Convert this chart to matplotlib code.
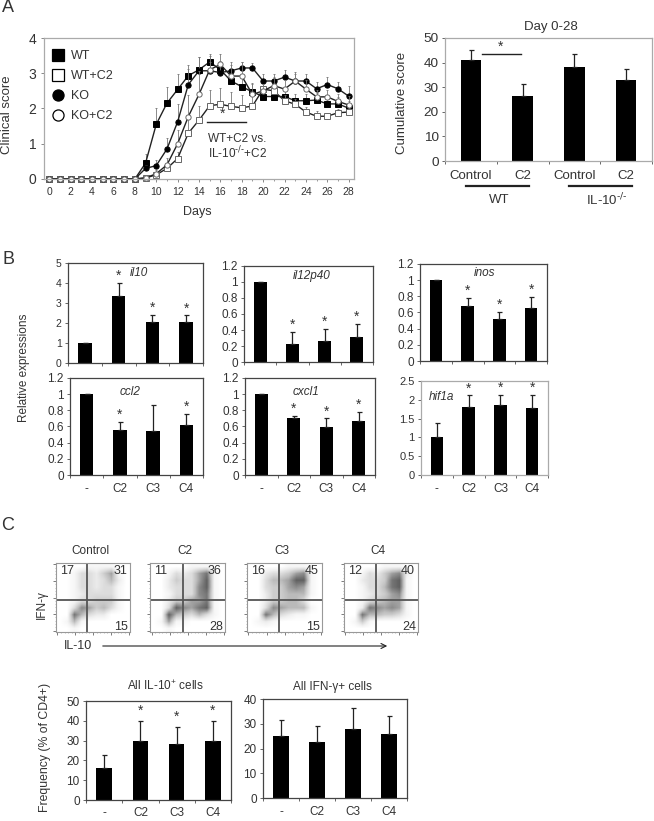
'''Three panel figure: clinical score, relative expressions and flow cytometry.'''

import matplotlib
matplotlib.use("Agg")
import matplotlib.pyplot as plt
from matplotlib.lines import Line2D
from matplotlib.patches import FancyArrowPatch
import numpy as np

plt.rcParams['font.family'] = ['Liberation Sans', 'DejaVu Sans']
plt.rcParams['mathtext.default'] = 'regular'

W, H = 654, 821
TXT = '#333333'

# ===============================================================
#  Data
# ===============================================================
days = list(range(29))
zeros9 = [0] * 9
wt = zeros9 + [.45, 1.55, 2.15, 2.54, 2.93, 3.1, 3.32, 3.1, 2.78, 2.62, 2.47, 2.34, 2.34, 2.34, 2.22, 2.22, 2.24, 2.13, 2.13, 2.01]
wt_c2 = zeros9 + [.03, .12, .3, .58, 1.3, 1.67, 2.08, 2.12, 2.06, 2.02, 2.07, 2.55, 2.5, 2.22, 2.12, 1.9, 1.78, 1.78, 1.88, 1.9]
ko = zeros9 + [.3, .38, .85, 1.62, 2.68, 3.07, 3.07, 3.02, 3.07, 3.15, 3.15, 2.78, 2.78, 2.89, 2.78, 2.78, 2.56, 2.68, 2.56, 2.35]
ko_c2 = zeros9 + [.03, .15, .4, 1.0, 1.77, 2.4, 3.1, 3.25, 2.92, 2.92, 2.4, 2.5, 2.65, 2.55, 2.78, 2.55, 2.33, 2.33, 2.2, 2.1]
wt_err = zeros9 + [.27, .45, .45, .43, .3, .35, .22, .25, .25, .25, .25, .2, .2, .2, .2, .2, .2, .2, .2, .2]
wt_c2_err = zeros9 + [.03, .08, .1, .2, .5, .4, .45, .45, .4, .35, .35, .2, .2, .15, .15, .15, .15, .1, .1, .1]
ko_err = zeros9 + [.1, .15, .3, .5, .45, .4, .25, .25, .25, .18, .15, .2, .2, .2, .2, .2, .2, .2, .2, .28]
ko_c2_err = zeros9 + [.03, .1, .2, .4, .6, .65, .4, .3, .3, .4, .3, .2, .25, .25, .25, .25, .2, .2, .2, .25]

cum_labels = ['Control', 'C2', 'Control', 'C2']
cum_vals = [41, 26.5, 38.3, 33]
cum_tops = [45.3, 31.2, 43.3, 37.5]

b_labels = ['-', 'C2', 'C3', 'C4']
il10_vals = [1, 3.35, 2.07, 2.03]
il10_tops = [1, 4.0, 2.4, 2.38]
il12_vals = [1, .23, .26, .31]
il12_tops = [1, .38, .41, .48]
inos_vals = [1, .68, .52, .66]
inos_tops = [1, .78, .61, .79]
ccl2_vals = [1, .56, .55, .62]
ccl2_tops = [1, .66, .87, .76]
cxcl1_vals = [1, .7, .59, .67]
cxcl1_tops = [1, .73, .7, .78]
hif_vals = [1, 1.8, 1.86, 1.79]
hif_tops = [1.39, 2.12, 2.14, 2.14]
freq10_vals = [16.2, 29.7, 28.3, 30]
freq10_tops = [22.5, 40, 37, 40]
ifn_vals = [25.2, 22.5, 28, 25.8]
ifn_tops = [31.5, 29, 36.5, 33]

# rough darkness of the dot clouds, one digit per cell, top row first
flow_control = ["0000111100", "0013324610", "0013323520", "0013323310", "0012333310",
                "0013344410", "0037645310", "0085322000", "0151000000", "0010000000"]
flow_c2 = ["0000011100", "0013236810", "0024336910", "0023337910", "0013337810",
           "0024466810", "0039768910", "0095435310", "0161100000", "0010000000"]
flow_c3 = ["0000011100", "0023346710", "0035569910", "0034467610", "0024455510",
           "0024455300", "0037655510", "0085321100", "0121000000", "0000000000"]
flow_c4 = ["0000011100", "0013246720", "0023348910", "0013358910", "0012346710",
           "0013456610", "0028767610", "0085544310", "0141000000", "0000000000"]
flow_titles = ['Control', 'C2', 'C3', 'C4']
flow_counts = [(17, 31, 15), (11, 36, 28), (16, 45, 15), (12, 40, 24)]


# ===============================================================
#  Helpers
# ===============================================================
fig = plt.figure(figsize=(W / 100, H / 100), dpi=100)


def ax_px(left, top, right, bottom):
    return fig.add_axes([left / W, 1 - bottom / H, (right - left) / W, (bottom - top) / H])


def txt(x, y, s, size=9, **kw):
    kw.setdefault('ha', 'center')
    kw.setdefault('va', 'center')
    kw.setdefault('color', TXT)
    fig.text(x / W, 1 - y / H, s, fontsize=size, **kw)


def hline_px(x0, x1, y, lw=1.0, color='#222222'):
    fig.add_artist(Line2D([x0 / W, x1 / W], [1 - y / H, 1 - y / H], lw=lw, color=color))


def bars(pos, vals, tops, ymax, yticks, ylabels, labels=None, stars=(), edge='#444444',
         width=0.4, size=8.5, lsize=8.5, pad=6, star_off=0):
    ax = ax_px(*pos)
    x = np.arange(len(vals))
    err = np.array(tops) - np.array(vals)
    ax.bar(x, vals, width=width, color='black')
    ax.errorbar(x, vals, yerr=[np.zeros(len(vals)), err], fmt='none', ecolor='#222222',
                elinewidth=0.9, capsize=1.8, capthick=0.9)
    ax.set_xlim(-0.5, len(vals) - 0.5)
    ax.set_ylim(0, ymax)
    ax.set_yticks(yticks)
    ax.set_yticklabels(ylabels, fontsize=size, color=TXT)
    ax.set_xticks(np.arange(len(vals) + 1) - 0.5)
    ax.set_xticklabels([])
    ax.set_xticks(x, minor=True)
    ax.set_xticklabels(labels if labels else [''] * len(vals), minor=True, fontsize=lsize, color=TXT)
    ax.tick_params(axis='x', which='minor', length=0, pad=pad)
    ax.tick_params(axis='both', which='major', length=2.5, width=0.7, color='#666666', pad=2)
    for s in ax.spines.values():
        s.set_color(edge)
        s.set_linewidth(0.9)
    for i in stars:
        ax.annotate('*', (i, tops[i]), xytext=(0, star_off), textcoords='offset points',
                    ha='center', va='bottom', fontsize=10, color=TXT)
    return ax


# ===============================================================
#  Panel A
# ===============================================================
ax = ax_px(44, 38, 354, 179)
series = [(wt, wt_err, 's', 'black', 'WT'), (wt_c2, wt_c2_err, 's', 'white', 'WT+C2'),
          (ko, ko_err, 'o', 'black', 'KO'), (ko_c2, ko_c2_err, 'o', 'white', 'KO+C2')]
handles = []
for ys, es, marker, face, name in series:
    grey = face == 'white'
    edge = '#666666' if grey else 'black'
    ax.errorbar(days, ys, yerr=[np.zeros(29), es], fmt='none', ecolor='#777777',
                elinewidth=0.6, capsize=1.0, capthick=0.6)
    ax.plot(days, ys, '-', color='#222222', lw=1.0, marker=marker, ms=3.8, mfc=face,
            mec=edge, mew=0.7, clip_on=False)
    handles.append(Line2D([], [], ls='', marker=marker, ms=8, mfc=face, mec='black', mew=0.9, label=name))
ax.set_xlim(-0.5, 28.5)
ax.set_ylim(0, 4)
ax.set_yticks([0, 1, 2, 3, 4])
ax.set_xticks(np.arange(0, 29, 2))
ax.set_xticks(np.arange(0, 29, 1), minor=True)
ax.tick_params(axis='y', labelsize=10, labelcolor=TXT, length=2.5, width=0.7, color='#888888', pad=3)
ax.tick_params(axis='x', labelsize=7.5, labelcolor=TXT, length=2.5, width=0.7, color='#888888', pad=3)
ax.tick_params(axis='x', which='minor', length=1.5, width=0.6, color='#888888')
for s in ax.spines.values():
    s.set_color('#aaaaaa')
    s.set_linewidth(0.9)
ax.legend(handles=handles, loc='upper left', bbox_to_anchor=(-0.023, 0.975), frameon=False, fontsize=9,
          labelspacing=0.63, handletextpad=0.0, borderaxespad=0.3, labelcolor=TXT)

txt(8, 8, 'A', 13)
txt(197, 212, 'Days', 9)
txt(7, 115, 'Clinical score', 9.5, rotation=90)
txt(223, 114, '*', 10)
hline_px(207, 246, 122)
txt(208, 139, 'WT+C2 vs.', 8.5, ha='left')
txt(208, 153, r'IL-10$^{\text{-/-}}$+C2', 8.5, ha='left')

bars((445, 38, 652, 161), cum_vals, cum_tops, 50, [0, 10, 20, 30, 40, 50],
     ['0', '10', '20', '30', '40', '50'], labels=cum_labels, edge='#aaaaaa', size=9.7, lsize=9.5, pad=6.5)
txt(551, 27, 'Day 0-28', 9.5)
txt(402, 103, 'Cumulative score', 9.5, rotation=90)
txt(501, 47, '*', 10)
hline_px(482, 521, 54)
hline_px(466, 529, 186, lw=1.6)
hline_px(569, 632, 186, lw=1.6)
txt(499, 200, 'WT', 9.5)
txt(607, 200, r'IL-10$^{\text{-/-}}$', 9.5)

# ===============================================================
#  Panel B
# ===============================================================
t12 = [0, .2, .4, .6, .8, 1, 1.2]
l12 = ['0', '0.2', '0.4', '0.6', '0.8', '1', '1.2']
bars((68, 263, 203, 363), il10_vals, il10_tops, 5, [0, 1, 2, 3, 4, 5], ['0', '1', '2', '3', '4', '5'],
     stars=(1, 2, 3), size=7.5)
bars((244, 266, 373, 362), il12_vals, il12_tops, 1.2, t12, l12, stars=(1, 2, 3))
bars((420, 264, 547, 361), inos_vals, inos_tops, 1.2, t12, l12, stars=(1, 2, 3))
bars((70, 378, 203, 475), ccl2_vals, ccl2_tops, 1.2, t12, l12, labels=b_labels, stars=(1, 3))
bars((245, 378, 375, 475), cxcl1_vals, cxcl1_tops, 1.2, t12, l12, labels=b_labels, stars=(1, 2, 3))
bars((421, 381, 548, 475), hif_vals, hif_tops, 2.5, [0, .5, 1, 1.5, 2, 2.5],
     ['0', '0.5', '1', '1.5', '2', '2.5'], labels=b_labels, stars=(1, 2, 3), edge='#aaaaaa', size=8)

txt(8, 259, 'B', 13)
txt(24, 368, 'Relative expressions', 8.5, rotation=90)
txt(139, 273, 'il10', 8.5, style='italic')
txt(312, 276, 'il12p40', 8.5, style='italic')
txt(485, 273, 'inos', 8.5, style='italic')
txt(130, 392, 'ccl2', 8.5, style='italic')
txt(306, 392, 'cxcl1', 8.5, style='italic')
txt(441, 397, 'hif1a', 8.5, style='italic')

# ===============================================================
#  Panel C
# ===============================================================
txt(8, 526, 'C', 13)
flow_boxes = [(56, 130, 87), (150, 225, 183), (247, 322, 279), (344, 418, 376)]
flow_grids = [flow_control, flow_c2, flow_c3, flow_c4]
for (left, right, gate), grid, title, counts in zip(flow_boxes, flow_grids, flow_titles, flow_counts):
    ax = ax_px(left, 563, right, 632)
    cells = np.array([[int(c) for c in row] for row in grid])
    ax.imshow(cells, cmap='Greys', vmin=0, vmax=13, extent=(0, 1, 0, 1), aspect='auto',
              interpolation='bilinear')
    gx = (gate - left) / (right - left)
    ax.axvline(gx, color='#555555', lw=1.3)
    ax.axhline((632 - 600) / 69, color='#555555', lw=1.3)
    ax.set_xticks(np.linspace(0.02, 0.98, 5))
    ax.set_xticks(np.linspace(0.02, 0.98, 21), minor=True)
    ax.set_yticks(np.linspace(0.02, 0.98, 5))
    ax.set_yticks(np.linspace(0.02, 0.98, 21), minor=True)
    ax.set_xticklabels([])
    ax.set_yticklabels([])
    ax.tick_params(which='major', length=2, width=0.6, color='#666666')
    ax.tick_params(which='minor', length=1, width=0.4, color='#888888')
    for s in ax.spines.values():
        s.set_color('#999999')
        s.set_linewidth(0.8)
    txt((left + right) / 2 - 3, 551, title, 8.5)
    txt(left + 11, 571, str(counts[0]), 9)
    txt(right - 10, 571, str(counts[1]), 9)
    txt(right - 9, 627, str(counts[2]), 9)

txt(42, 605, 'IFN-γ', 8.5, rotation=90)
txt(78, 646, 'IL-10', 9)
fig.add_artist(FancyArrowPatch((100 / W, 1 - 646 / H), (390 / W, 1 - 646 / H),
               transform=fig.transFigure, arrowstyle='->', mutation_scale=9, lw=0.8, color='#222222'))

bars((86, 701, 231, 800), freq10_vals, freq10_tops, 50, [0, 10, 20, 30, 40, 50],
     ['0', '10', '20', '30', '40', '50'], labels=b_labels, stars=(1, 2, 3), width=0.43, star_off=2, pad=5)
bars((263, 699, 407, 798), ifn_vals, ifn_tops, 40, [0, 10, 20, 30, 40],
     ['0', '10', '20', '30', '40'], labels=b_labels, width=0.43, pad=6)
txt(165, 686, 'All IL-10$^{+}$ cells', 8.5)
txt(332, 687, 'All IFN-γ+ cells', 8.5)
txt(45, 747, 'Frequency (% of CD4+)', 8.8, rotation=90)

fig.savefig('out.png', dpi=100)
